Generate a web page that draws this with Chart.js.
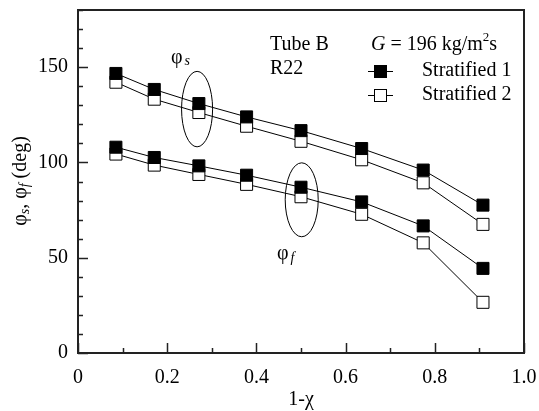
<!DOCTYPE html>
<html>
<head>
<meta charset="utf-8">
<script src="https://cdn.jsdelivr.net/npm/chart.js@4"></script>
<style>
  body { margin: 0; background: #fff; }
  #wrap { width: 539px; height: 411px; }
</style>
</head>
<body>
<div id="wrap"><canvas id="phiChart"></canvas></div>
<script>
// 1-x values, shared by every series
const xValues = [0.085, 0.171, 0.271, 0.378, 0.500, 0.636, 0.774, 0.908];
// phi_s (upper group) and phi_f (lower group), deg
const strat1PhiS = [146.7, 138.3, 130.9, 123.9, 116.7, 107.3, 96.0, 77.6];
const strat2PhiS = [142.1, 133.2, 126.2, 119.0, 111.1, 101.4, 89.3, 67.5];
const strat1PhiF = [108.0, 102.6, 98.2, 93.3, 87.0, 79.3, 66.7, 44.4];
const strat2PhiF = [104.4, 98.6, 93.7, 88.5, 82.0, 72.8, 57.8, 26.6];

const legendLabels = ['Stratified 1', 'Stratified 2'];
const xTicks = [0, 0.2, 0.4, 0.6, 0.8, 1.0];
const xTickLabels = ['0', '0.2', '0.4', '0.6', '0.8', '1.0'];
const yTicks = [0, 50, 100, 150];
const yTickLabels = ['0', '50', '100', '150'];

const FONT = '"Liberation Serif", "Times New Roman", serif';

function pts(ys) {
  return ys.map((y, i) => ({x: xValues[i], y: y}));
}

function series(label, ys, fill) {
  return {
    label: label,
    data: pts(ys),
    borderColor: '#000',
    borderWidth: 1,
    pointStyle: 'rect',
    pointRadius: 8.5,
    pointBorderWidth: 1,
    pointBackgroundColor: fill,
    pointBorderColor: '#000',
    fill: false,
    tension: 0
  };
}

// frame, inward ticks, ellipses, labels, legend
const decor = {
  id: 'decor',
  afterDraw(chart) {
    const c = chart.ctx;
    const a = chart.chartArea;
    const xs = chart.scales.x, ys = chart.scales.y;
    c.save();
    c.strokeStyle = '#222';
    c.lineWidth = 2;
    c.strokeRect(a.left, a.top, a.right - a.left, a.bottom - a.top);

    c.lineWidth = 1.5;
    c.beginPath();
    for (let v = 0; v <= 180; v += 10) {
      const y = Math.round(ys.getPixelForValue(v)) + 0.5;
      const len = v % 50 === 0 ? 10 : 5;
      c.moveTo(a.left, y);
      c.lineTo(a.left + len, y);
    }
    for (let i = 0; i <= 10; i++) {
      const x = Math.round(xs.getPixelForValue(i / 10)) + 0.5;
      const len = i % 2 === 0 ? 10 : 5;
      c.moveTo(x, a.bottom);
      c.lineTo(x, a.bottom - len);
    }
    c.stroke();

    // ellipses around the 3rd / 5th point groups
    c.lineWidth = 1;
    c.strokeStyle = '#000';
    [[0.267, 128.0, 0.0348, 19.8], [0.5016, 80.4, 0.037, 19.4]].forEach(e => {
      const cx = xs.getPixelForValue(e[0]);
      const cy = ys.getPixelForValue(e[1]);
      const rx = xs.getPixelForValue(e[0] + e[2]) - cx;
      const ry = cy - ys.getPixelForValue(e[1] + e[3]);
      c.beginPath();
      c.ellipse(cx, cy, rx, ry, 0, 0, Math.PI * 2);
      c.stroke();
    });

    c.fillStyle = '#000';
    c.textBaseline = 'middle';
    c.textAlign = 'left';

    // phi labels
    function phiLabel(x, y, sub) {
      c.font = '20px ' + FONT;
      c.fillText('\u03c6', x, y);
      const w = c.measureText('\u03c6').width;
      c.font = 'italic 14px ' + FONT;
      c.fillText(sub, x + w + 2, y + 4);
    }
    phiLabel(xs.getPixelForValue(0.2085), ys.getPixelForValue(155.2), 's');
    phiLabel(xs.getPixelForValue(0.446), ys.getPixelForValue(51.9), 'f');

    // Tube / fluid
    c.font = '20px ' + FONT;
    c.fillText('Tube B', 270, 45);
    c.fillText('R22', 270, 69);

    // G = 196 kg/m2s
    let x = 371;
    c.font = 'italic 20px ' + FONT;
    c.fillText('G', x, 45);
    x += c.measureText('G').width;
    c.font = '20px ' + FONT;
    c.fillText(' = 196 kg/m', x, 45);
    x += c.measureText(' = 196 kg/m').width;
    c.font = '13px ' + FONT;
    c.fillText('2', x, 38);
    x += c.measureText('2').width;
    c.font = '20px ' + FONT;
    c.fillText('s', x, 45);

    // legend
    const fills = ['#000', '#fff'];
    legendLabels.forEach((lab, i) => {
      const ly = 71 + i * 24;
      c.lineWidth = 1;
      c.strokeStyle = '#000';
      c.beginPath();
      c.moveTo(368, ly + 0.5);
      c.lineTo(393, ly + 0.5);
      c.stroke();
      c.fillStyle = fills[i];
      c.fillRect(374.5, ly - 5.5, 12, 12);
      c.strokeRect(374.5, ly - 5.5, 12, 12);
      c.fillStyle = '#000';
      c.font = '20px ' + FONT;
      c.fillText(lab, 422, ly);
    });

    // y axis title: phi_s, phi_f (deg)
    c.translate(21, 181);
    c.rotate(-Math.PI / 2);
    const parts = [
      ['20px ', '\u03c6', 0], ['italic 14px ', 's', 4], ['20px ', ', ', 0],
      ['20px ', '\u03c6', 0], ['italic 14px ', 'f', 4], ['20px ', ' (deg)', 0]
    ];
    let total = 0;
    parts.forEach(p => { c.font = p[0] + FONT; total += c.measureText(p[1]).width; });
    let px = -total / 2;
    parts.forEach(p => {
      c.font = p[0] + FONT;
      c.fillText(p[1], px, p[2]);
      px += c.measureText(p[1]).width;
    });
    c.restore();

    // x axis title
    c.save();
    c.fillStyle = '#000';
    c.font = '20px ' + FONT;
    c.textAlign = 'center';
    c.textBaseline = 'middle';
    c.fillText('1-\u03c7', 301, 400);
    c.restore();
  }
};

const phiChart = new Chart(document.getElementById('phiChart'), {
  type: 'line',
  data: {
    datasets: [
      series(legendLabels[0], strat1PhiS, '#000'),
      series(legendLabels[0], strat1PhiF, '#000'),
      series(legendLabels[1], strat2PhiS, '#fff'),
      series(legendLabels[1], strat2PhiF, '#fff')
    ]
  },
  options: {
    responsive: true,
    maintainAspectRatio: false,
    animation: false,
    layout: { padding: { top: 10, right: 15, left: 0, bottom: 0 } },
    plugins: { legend: { display: false }, tooltip: { enabled: false } },
    scales: {
      x: {
        type: 'linear',
        min: 0,
        max: 1,
        grid: { display: false, drawTicks: false },
        border: { display: false },
        afterBuildTicks: s => { s.ticks = xTicks.map(v => ({value: v})); },
        afterFit: s => { s.height = 58; s.paddingLeft = 0; s.paddingRight = 0; },
        ticks: {
          padding: 13,
          maxRotation: 0,
          color: '#000',
          font: { family: FONT, size: 20 },
          callback: (v, i) => xTickLabels[i]
        }
      },
      y: {
        min: 0,
        max: 180,
        grid: { display: false, drawTicks: false },
        border: { display: false },
        afterBuildTicks: s => { s.ticks = yTicks.map(v => ({value: v})); },
        afterFit: s => { s.width = 78; s.paddingTop = 0; s.paddingBottom = 0; },
        ticks: {
          padding: 10,
          color: '#000',
          font: { family: FONT, size: 20 },
          callback: (v, i) => yTickLabels[i]
        }
      }
    }
  },
  plugins: [decor]
});
</script>
</body>
</html>
